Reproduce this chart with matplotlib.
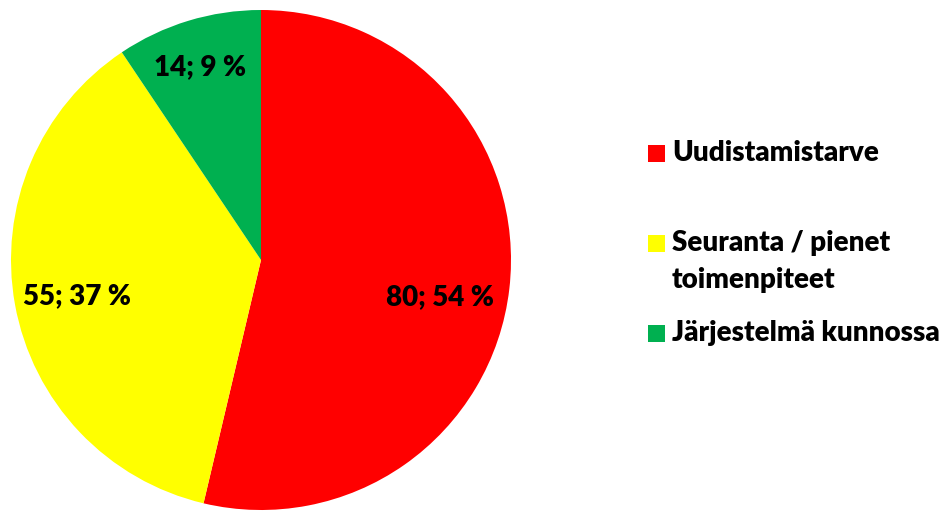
import matplotlib
matplotlib.use("Agg")
import matplotlib.pyplot as plt
from matplotlib.patches import Rectangle

categories = ["Uudistamistarve", "Seuranta / pienet\ntoimenpiteet", "Järjestelmä kunnossa"]
counts = [80, 55, 14]
percents = [54, 37, 9]
colors = ["#FF0000", "#FFFF00", "#00B050"]

# label centres in pie data coords (radius 1)
label_pos = [(0.716, -0.148), (-0.736, -0.144), (-0.244, 0.772)]
# legend entry rows (figure px from top, of the first text line)
legend_rows = [153, 243, 333]
LINE_GAP = 37

FONT = ["Lato", "DejaVu Sans"]
FS = 20
WEIGHT = "heavy"

fig = plt.figure(figsize=(9.46, 5.25), dpi=100)
W, H = 946, 525

ax = fig.add_axes([11 / W, 15 / H, 500 / W, 500 / H])
wedges, _ = ax.pie(counts, colors=colors, startangle=90, counterclock=False,
                   radius=1.0, wedgeprops=dict(linewidth=0))
ax.set_xlim(-1, 1)
ax.set_ylim(-1, 1)
ax.set_aspect("equal")

for (x, y), c, p in zip(label_pos, counts, percents):
    ax.text(x, y, f"{c}; {p} %", ha="center", va="center",
            fontsize=FS, fontweight=WEIGHT, family=FONT, color="black")

for row, cat, col in zip(legend_rows, categories, colors):
    fig.patches.append(Rectangle((648 / W, 1 - (row + 8.5) / H), 17 / W, 17 / H,
                                 transform=fig.transFigure, facecolor=col,
                                 edgecolor="none"))
    for i, line in enumerate(cat.split("\n")):
        fig.text(672 / W, 1 - (row + i * LINE_GAP) / H, line, ha="left",
                 va="center", fontsize=FS, fontweight=WEIGHT, family=FONT)

fig.savefig("out.png", dpi=100)
